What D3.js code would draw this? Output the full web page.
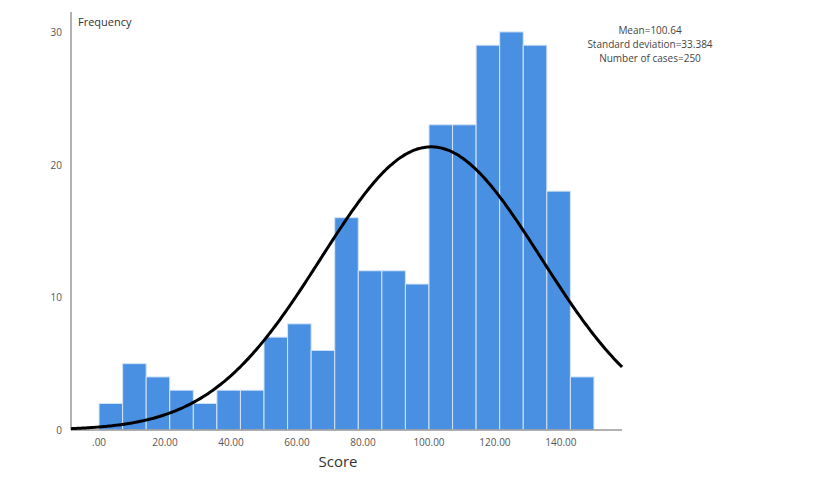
<!DOCTYPE html>
<html>
<head>
<meta charset="utf-8">
<script src="https://cdn.jsdelivr.net/npm/d3@7"></script>
<style>
  body { margin: 0; background: #fff; }
  text { font-family: "Open Sans", "Noto Sans", sans-serif; }
</style>
</head>
<body>
<svg id="chart" width="817" height="486"></svg>
<script>
// histogram counts, 21 bins from 0 to 150
var counts = [2, 5, 4, 3, 2, 3, 3, 7, 8, 6, 16, 12, 12, 11, 23, 23, 29, 30, 29, 18, 4];
var binStart = 0, binEnd = 150;
var xTicks = [0, 20, 40, 60, 80, 100, 120, 140];
var yTicks = [0, 10, 20, 30];
var mean = 100.64, sd = 33.384, nCases = 250;
var statLines = ['Mean=100.64', 'Standard deviation=33.384', 'Number of cases=250'];

var svg = d3.select('#chart');
var binW = (binEnd - binStart) / counts.length;

var x = d3.scaleLinear().domain([-8.5, 158.5]).range([71, 622]);
var y = d3.scaleLinear().domain([0, 31.5]).range([430, 12]);

// bars
svg.append('g')
    .selectAll('rect')
    .data(counts)
    .enter()
    .append('rect')
    .attr('x', function(d, i){ return x(binStart + i * binW); })
    .attr('width', function(d, i){ return x(binStart + (i + 1) * binW) - x(binStart + i * binW); })
    .attr('y', function(d){ return y(d); })
    .attr('height', function(d){ return y(0) - y(d); })
    .style('fill', '#4a90e2')
    .style('stroke', '#d4e4f7')
    .style('stroke-width', 1);

// axes lines
svg.append('line')
    .attr('x1', x.range()[0]).attr('x2', x.range()[1])
    .attr('y1', y(0)).attr('y2', y(0))
    .style('stroke', '#999').style('stroke-width', 1.5);
svg.append('line')
    .attr('x1', x.range()[0]).attr('x2', x.range()[0])
    .attr('y1', y(0)).attr('y2', y.range()[1])
    .style('stroke', '#999').style('stroke-width', 1.5);

// tick labels
svg.append('g')
    .selectAll('text')
    .data(xTicks)
    .enter()
    .append('text')
    .attr('x', function(d){ return x(d); })
    .attr('y', y(0) + 16)
    .attr('text-anchor', 'middle')
    .style('font-size', '10px')
    .style('fill', '#555')
    .text(function(d){ return d === 0 ? '.00' : d.toFixed(2); });

svg.append('g')
    .selectAll('text')
    .data(yTicks)
    .enter()
    .append('text')
    .attr('x', 62)
    .attr('y', function(d){ return y(d) + 4; })
    .attr('text-anchor', 'end')
    .style('font-size', '10px')
    .style('fill', '#555')
    .text(function(d){ return d; });

// normal curve
var pts = d3.range(x.domain()[0], x.domain()[1] + 0.01, 0.5);
var peak = nCases * binW / (sd * Math.sqrt(2 * Math.PI));
var line = d3.line()
    .x(function(d){ return x(d); })
    .y(function(d){ return y(peak * Math.exp(-0.5 * Math.pow((d - mean) / sd, 2))); })
    .curve(d3.curveBasis);
svg.append('path')
    .datum(pts)
    .attr('d', line)
    .style('fill', 'none')
    .style('stroke', '#000')
    .style('stroke-width', 3);

// labels
svg.append('text')
    .attr('x', 78).attr('y', 26)
    .style('font-size', '11px')
    .style('fill', '#333')
    .text('Frequency');

svg.append('text')
    .attr('x', 338).attr('y', 467)
    .attr('text-anchor', 'middle')
    .style('font-size', '15px')
    .style('fill', '#333')
    .text('Score');

svg.append('g')
    .selectAll('text')
    .data(statLines)
    .enter()
    .append('text')
    .attr('x', 650)
    .attr('y', function(d, i){ return 34 + i * 14; })
    .attr('text-anchor', 'middle')
    .style('font-size', '10px')
    .style('fill', '#444')
    .text(function(d){ return d; });
</script>
</body>
</html>
